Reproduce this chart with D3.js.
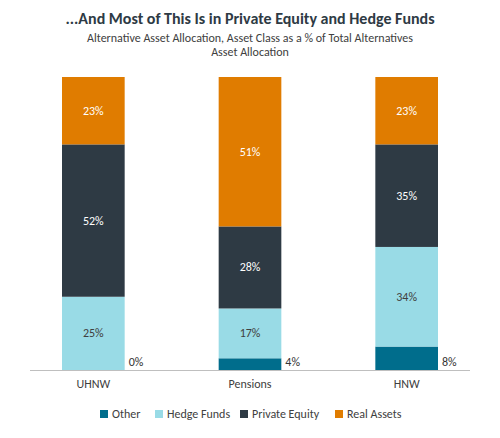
<!DOCTYPE html>
<html><head><meta charset="utf-8">
<script src="https://cdn.jsdelivr.net/npm/d3@7"></script>
<style>body{margin:0;background:#fff}</style></head>
<body><div id="chart"></div>
<script>
var categories = ["UHNW", "Pensions", "HNW"]
var seriesNames = ["Other", "Hedge Funds", "Private Equity", "Real Assets"]
var other = [0, 4, 8]
var hedgeFunds = [25, 17, 34]
var privateEquity = [52, 28, 35]
var realAssets = [23, 51, 23]
var colors = ["#006d8c", "#99dbe6", "#2e3a44", "#e07c00"]
var textColors = ["#333", "#404040", "#fff", "#fff"]

var wd = 500, ht = 438
var svg = d3.select("#chart").append("svg").attr("width", wd).attr("height", ht)
  .style("font-family", "Calibri, Carlito, 'Liberation Sans', sans-serif")

var rows = categories.map(function(c, i) {
  return {cat: c, "Other": other[i], "Hedge Funds": hedgeFunds[i], "Private Equity": privateEquity[i], "Real Assets": realAssets[i]}
})
var stacked = d3.stack().keys(seriesNames)(rows)

var x = d3.scaleBand().domain(categories).range([15, 485]).paddingInner(0.6).paddingOuter(0.3)
var y = d3.scaleLinear().domain([0, 100]).range([370, 77])

svg.append("text").attr("x", wd/2).attr("y", 24).attr("text-anchor", "middle")
  .style("font-size", "16px").style("font-weight", "bold").attr("fill", "#2e3a44")
  .text("...And Most of This Is in Private Equity and Hedge Funds")
svg.append("text").attr("x", wd/2).attr("y", 42).attr("text-anchor", "middle")
  .style("font-size", "12px").attr("fill", "#404040")
  .text("Alternative Asset Allocation, Asset Class as a % of Total Alternatives")
svg.append("text").attr("x", wd/2).attr("y", 56).attr("text-anchor", "middle")
  .style("font-size", "12px").attr("fill", "#404040").text("Asset Allocation")

stacked.forEach(function(s, k) {
  var g = svg.append("g")
  g.selectAll("rect").data(s).enter().append("rect")
    .attr("x", function(d) { return x(d.data.cat) })
    .attr("width", x.bandwidth())
    .attr("y", function(d) { return y(d[1]) })
    .attr("height", function(d) { return y(d[0]) - y(d[1]) })
    .attr("fill", colors[k])
  g.selectAll("text").data(s).enter().append("text")
    .attr("x", function(d) { return k == 0 ? x(d.data.cat) + x.bandwidth() + 4 : x(d.data.cat) + x.bandwidth()/2 })
    .attr("y", function(d) { return k == 0 ? y(0) - 4 : (y(d[0]) + y(d[1]))/2 + 4 })
    .attr("text-anchor", k == 0 ? "start" : "middle")
    .style("font-size", "12px")
    .attr("fill", textColors[k])
    .text(function(d) { return (d[1] - d[0]) + "%" })
})

var xAxis = svg.append("g").attr("transform", "translate(0,370)")
  .call(d3.axisBottom(x).tickSize(0).tickPadding(9))
xAxis.select(".domain").attr("stroke", "#bfbfbf").attr("d", "M30,0.5H470")
xAxis.selectAll("text").style("font-size", "12px").attr("fill", "#404040")
  .style("font-family", "Calibri, Carlito, 'Liberation Sans', sans-serif")

var legX = [100, 155, 240, 335]
var leg = svg.append("g").selectAll("g").data(seriesNames).enter().append("g")
  .attr("transform", function(d, i) { return "translate(" + legX[i] + ",410)" })
leg.append("rect").attr("width", 8).attr("height", 8).attr("fill", function(d, i) { return colors[i] })
leg.append("text").attr("x", 12).attr("y", 8).style("font-size", "12px").attr("fill", "#404040")
  .text(function(d) { return d })
</script></body></html>
